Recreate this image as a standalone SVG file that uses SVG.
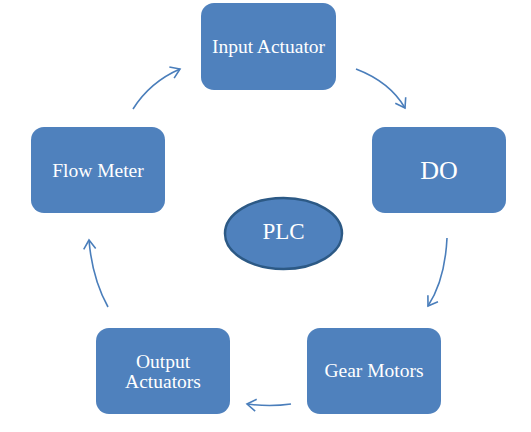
<svg xmlns="http://www.w3.org/2000/svg" width="531" height="432" viewBox="0 0 531 432">
<style>
.box{fill:#4f81bd;}
.t{fill:#ffffff;font-family:'Liberation Serif','Times New Roman','DejaVu Serif',serif;text-anchor:middle;font-size:19.5px;}
.c{fill:none;stroke:#4a7ebb;stroke-width:1.6;marker-end:url(#ah);}
</style>
<defs>
<marker id="ah" markerUnits="userSpaceOnUse" markerWidth="16" markerHeight="16" refX="12" refY="8" orient="auto" viewBox="0 0 16 16">
<path d="M3,2 L12,8 L3,14" fill="none" stroke="#4a7ebb" stroke-width="1.6"/>
</marker>
</defs>
<rect width="531" height="432" fill="#ffffff"/>
<g id="input-actuator"><rect class="box" x="201" y="3" width="135" height="87" rx="13"/><text class="t" x="268.5" y="53" font-family="Liberation Serif, serif">Input Actuator</text></g>
<g id="do"><rect class="box" x="372" y="127" width="134" height="86" rx="13"/><text class="t" x="439" y="179" style="font-size:26px">DO</text></g>
<g id="gear-motors"><rect class="box" x="307" y="328" width="134" height="86" rx="13"/><text class="t" x="374" y="377">Gear Motors</text></g>
<g id="output-actuators"><rect class="box" x="96" y="328" width="134" height="86" rx="13"/><text class="t" x="163" y="368">Output</text><text class="t" x="163" y="388">Actuators</text></g>
<g id="flow-meter"><rect class="box" x="31" y="127" width="134" height="86" rx="13"/><text class="t" x="98" y="177">Flow Meter</text></g>
<g id="plc"><ellipse cx="283.5" cy="233.5" rx="58.5" ry="35.5" fill="#4f81bd" stroke="#2c5985" stroke-width="2.5"/><text class="t" x="283.5" y="239" style="font-size:23px">PLC</text></g>
<g id="connectors">
<path class="c" d="M133,109 Q150,82 180,69"/>
<path class="c" d="M356,69 Q390,82 405,108"/>
<path class="c" d="M447,238 Q445,280 428,306"/>
<path class="c" d="M291,404 Q270,407 247,404"/>
<path class="c" d="M108,307 Q92,278 89,240"/>
</g>
</svg>
